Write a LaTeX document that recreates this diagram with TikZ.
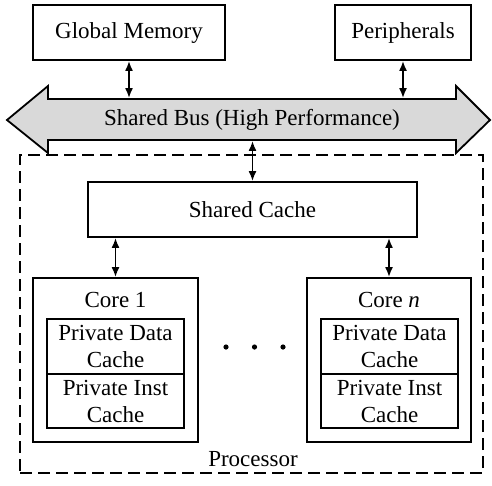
\documentclass[tikz,border=0pt]{standalone}
\usepackage{fontspec}
\setmainfont{Liberation Serif}
\usetikzlibrary{arrows.meta}
\begin{document}
\begin{tikzpicture}[x=1pt,y=-1pt,line width=1.8pt,
    font=\fontsize{23}{27}\selectfont,
    box/.style={draw,rectangle,inner sep=0pt,align=center},
    link/.style={{Latex[length=10pt,width=8pt]}-{Latex[length=10pt,width=8pt]}}]
      \useasboundingbox (0,0) rectangle (492,485);
      % bus
      \draw[fill=gray!30] (7,120) -- (48,86) -- (48,99) -- (456,99) -- (456,86)
        -- (490,120) -- (456,153) -- (456,140) -- (48,140) -- (48,153) -- cycle;
      \draw
        (129,32.5) node[box,minimum width=192pt,minimum height=55pt] (mem){Global Memory}
        (403,32.5) node[box,minimum width=136pt,minimum height=55pt] (per){Peripherals}
        (252,119.5) node[inner sep=0pt,minimum width=408pt,minimum height=41pt] (bus){Shared Bus (High Performance)}
        (251.5,314) node[box,dash pattern=on 12pt off 6pt,minimum width=463pt,minimum height=318pt] (proc){}
        (253,459) node (plabel){Processor}
        (252.5,209.5) node[box,minimum width=329pt,minimum height=55pt] (sc){Shared Cache}
        (115.5,360) node[box,minimum width=165pt,minimum height=164pt] (c1){}
        (115.5,300) node (c1t){Core 1}
        (115.5,346.5) node[box,minimum width=137pt,minimum height=55pt] (d1){Private Data\\Cache}
        (115.5,401) node[box,minimum width=137pt,minimum height=54pt] (i1){Private Inst\\Cache}
        (389,360) node[box,minimum width=164pt,minimum height=164pt] (cn){}
        (389,300) node (cnt){Core \textit{n}}
        (389.5,346.5) node[box,minimum width=137pt,minimum height=55pt] (dn){Private Data\\Cache}
        (389.5,401) node[box,minimum width=137pt,minimum height=54pt] (in){Private Inst\\Cache};
      \foreach \x in {226,254.5,283}
        \fill (\x,347) circle (2.6pt);
      \begin{scope}[link]
        \draw (mem.south) to (mem.south |- bus.north);
        \draw (per.south) to (per.south |- bus.north);
        \draw (sc.north) to (sc.north |- bus.south);
        \draw (c1.north) to (c1.north |- sc.south);
        \draw (cn.north) to (cn.north |- sc.south);
      \end{scope}
    \end{tikzpicture}
\end{document}
